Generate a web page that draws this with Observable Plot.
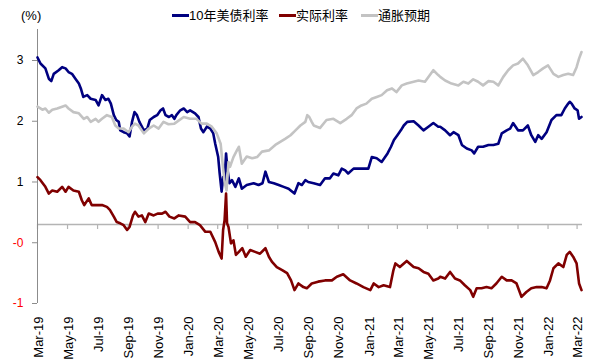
<!DOCTYPE html>
<html>
<head>
<meta charset="utf-8">
<script src="https://cdn.jsdelivr.net/npm/d3@7"></script>
<script src="https://cdn.jsdelivr.net/npm/@observablehq/plot@0.6"></script>
<style>
  html, body { margin: 0; padding: 0; background: #fff; }
  #wrap { position: relative; width: 606px; height: 363px; font-family: "Liberation Sans", Arial, "Noto Sans CJK SC", sans-serif; }
  #head { position: absolute; left: 0; top: 0; width: 606px; height: 25px; }
  #head span { position: absolute; top: 7px; line-height: 17px; font-size: 13px; color: #000; white-space: nowrap; }
  #head i { position: absolute; top: 14px; height: 3px; width: 17px; }
  #chart { position: absolute; left: 0; top: 25px; }
</style>
</head>
<body>
<div id="wrap">
  <div id="head"></div>
  <div id="chart"></div>
</div>
<script>
// ---- data ----
const seriesNames = ["10年美债利率", "实际利率", "通胀预期"];
const seriesColors = ["#000080", "#800000", "#c3c3c3"];
const unitLabel = "(%)";

const us10y = [
["2019-03-01",3.05],["2019-03-07",2.95],["2019-03-17",2.87],["2019-03-24",2.70],["2019-03-29",2.66],
["2019-04-03",2.78],["2019-04-13",2.84],["2019-04-20",2.89],["2019-04-27",2.87],["2019-05-03",2.81],
["2019-05-10",2.78],["2019-05-17",2.70],["2019-05-24",2.62],["2019-05-28",2.54],["2019-06-02",2.40],
["2019-06-10",2.43],["2019-06-17",2.37],["2019-06-27",2.35],["2019-07-03",2.26],["2019-07-10",2.43],
["2019-07-17",2.35],["2019-07-23",2.37],["2019-07-28",2.29],["2019-08-03",2.10],["2019-08-08",2.02],
["2019-08-13",1.99],["2019-08-16",1.85],["2019-08-23",1.82],["2019-08-30",1.80],["2019-09-04",1.75],
["2019-09-09",1.99],["2019-09-14",2.15],["2019-09-19",2.10],["2019-09-24",1.99],["2019-10-03",1.85],
["2019-10-10",1.88],["2019-10-15",2.02],["2019-10-23",2.07],["2019-10-30",2.10],["2019-11-06",2.18],
["2019-11-11",2.21],["2019-11-16",2.10],["2019-11-23",2.07],["2019-11-29",2.10],["2019-12-04",2.04],
["2019-12-08",2.10],["2019-12-16",2.18],["2019-12-23",2.21],["2019-12-30",2.15],["2020-01-05",2.18],
["2020-01-15",2.13],["2020-01-22",2.07],["2020-01-27",1.88],["2020-02-01",1.82],["2020-02-08",1.91],
["2020-02-15",1.88],["2020-02-21",1.80],["2020-02-25",1.63],["2020-03-02",1.41],["2020-03-05",1.14],
["2020-03-09",0.84],["2020-03-12",1.08],["2020-03-15",1.00],["2020-03-18",1.47],["2020-03-21",1.20],
["2020-03-25",0.98],["2020-03-30",1.03],["2020-04-06",0.92],["2020-04-13",1.06],["2020-04-19",0.89],
["2020-04-29",0.95],["2020-05-13",0.98],["2020-05-23",0.95],["2020-05-31",0.98],["2020-06-06",1.17],
["2020-06-13",1.00],["2020-06-23",0.98],["2020-07-03",0.95],["2020-07-13",0.92],["2020-07-23",0.89],
["2020-08-04",0.81],["2020-08-12",0.98],["2020-08-19",0.95],["2020-08-26",1.03],["2020-09-01",1.00],
["2020-09-12",0.98],["2020-09-25",0.95],["2020-10-05",1.06],["2020-10-15",1.06],["2020-10-22",1.14],
["2020-11-01",1.11],["2020-11-08",1.22],["2020-11-15",1.19],["2020-11-21",1.14],["2020-12-02",1.22],
["2020-12-12",1.22],["2020-12-22",1.22],["2021-01-01",1.22],["2021-01-08",1.41],["2021-01-18",1.39],
["2021-01-28",1.33],["2021-02-09",1.47],["2021-02-16",1.58],["2021-02-22",1.69],["2021-03-01",1.77],
["2021-03-08",1.85],["2021-03-14",1.93],["2021-03-21",1.99],["2021-04-03",2.00],["2021-04-13",1.93],
["2021-04-23",1.85],["2021-05-03",1.91],["2021-05-13",1.97],["2021-05-23",1.91],["2021-05-27",1.91],
["2021-06-06",1.85],["2021-06-16",1.77],["2021-06-23",1.82],["2021-07-03",1.77],["2021-07-10",1.61],
["2021-07-20",1.55],["2021-07-30",1.52],["2021-08-04",1.47],["2021-08-12",1.58],["2021-08-22",1.58],
["2021-09-02",1.61],["2021-09-12",1.61],["2021-09-22",1.63],["2021-09-29",1.80],["2021-10-09",1.85],
["2021-10-16",1.88],["2021-10-22",1.97],["2021-11-01",1.85],["2021-11-11",1.85],["2021-11-21",1.93],
["2021-11-28",1.77],["2021-12-06",1.66],["2021-12-12",1.77],["2021-12-19",1.71],["2021-12-29",1.82],
["2022-01-08",2.02],["2022-01-18",2.10],["2022-01-28",2.10],["2022-02-04",2.21],["2022-02-11",2.29],
["2022-02-14",2.32],["2022-02-18",2.29],["2022-02-24",2.21],["2022-03-02",2.18],["2022-03-05",2.04],
["2022-03-10",2.07]
];

const realRate = [
["2019-03-01",1.08],["2019-03-07",1.03],["2019-03-17",0.92],["2019-03-24",0.81],["2019-03-31",0.86],
["2019-04-10",0.84],["2019-04-20",0.92],["2019-04-27",0.84],["2019-05-03",0.92],["2019-05-13",0.86],
["2019-05-24",0.84],["2019-05-30",0.70],["2019-06-04",0.62],["2019-06-13",0.73],["2019-06-19",0.62],
["2019-06-29",0.62],["2019-07-10",0.62],["2019-07-20",0.59],["2019-07-26",0.54],["2019-08-03",0.43],
["2019-08-09",0.34],["2019-08-16",0.32],["2019-08-23",0.29],["2019-08-30",0.21],["2019-09-04",0.26],
["2019-09-11",0.45],["2019-09-15",0.51],["2019-09-22",0.43],["2019-09-29",0.45],["2019-10-06",0.34],
["2019-10-13",0.48],["2019-10-23",0.45],["2019-10-31",0.48],["2019-11-09",0.48],["2019-11-16",0.51],
["2019-11-24",0.43],["2019-12-04",0.40],["2019-12-13",0.45],["2019-12-26",0.43],["2020-01-05",0.34],
["2020-01-15",0.34],["2020-01-25",0.29],["2020-02-05",0.18],["2020-02-15",0.18],["2020-02-25",0.01],
["2020-03-03",-0.15],["2020-03-09",-0.26],["2020-03-12",0.21],["2020-03-15",0.37],["2020-03-18",0.81],
["2020-03-20",0.32],["2020-03-23",0.26],["2020-03-28",-0.01],["2020-04-02",0.04],["2020-04-07",-0.20],
["2020-04-13",-0.15],["2020-04-20",-0.09],["2020-04-27",-0.23],["2020-05-06",-0.12],["2020-05-16",-0.15],
["2020-05-26",-0.18],["2020-06-06",-0.09],["2020-06-13",-0.23],["2020-06-19",-0.31],["2020-06-29",-0.40],
["2020-07-10",-0.45],["2020-07-20",-0.50],["2020-07-28",-0.62],["2020-08-04",-0.78],["2020-08-12",-0.67],
["2020-08-22",-0.73],["2020-08-29",-0.75],["2020-09-08",-0.67],["2020-09-21",-0.64],["2020-10-05",-0.62],
["2020-10-19",-0.62],["2020-10-29",-0.56],["2020-11-11",-0.52],["2020-11-25",-0.62],["2020-12-08",-0.67],
["2020-12-22",-0.73],["2021-01-05",-0.78],["2021-01-12",-0.67],["2021-01-22",-0.73],["2021-02-01",-0.70],
["2021-02-14",-0.73],["2021-02-21",-0.45],["2021-02-25",-0.34],["2021-03-06",-0.40],["2021-03-20",-0.30],
["2021-04-03",-0.40],["2021-04-13",-0.42],["2021-04-23",-0.48],["2021-05-03",-0.51],["2021-05-13",-0.62],
["2021-05-23",-0.59],["2021-05-27",-0.56],["2021-06-06",-0.59],["2021-06-16",-0.48],["2021-06-26",-0.59],
["2021-07-06",-0.62],["2021-07-16",-0.70],["2021-07-27",-0.78],["2021-08-02",-0.89],["2021-08-09",-0.75],
["2021-08-19",-0.75],["2021-08-29",-0.73],["2021-09-08",-0.75],["2021-09-18",-0.67],["2021-09-29",-0.56],
["2021-10-09",-0.62],["2021-10-19",-0.62],["2021-10-29",-0.67],["2021-11-08",-0.89],["2021-11-18",-0.81],
["2021-11-28",-0.75],["2021-12-09",-0.73],["2021-12-19",-0.73],["2021-12-29",-0.75],["2022-01-05",-0.62],
["2022-01-12",-0.42],["2022-01-22",-0.34],["2022-02-01",-0.40],["2022-02-08",-0.20],["2022-02-14",-0.15],
["2022-02-21",-0.23],["2022-02-28",-0.34],["2022-03-05",-0.67],["2022-03-10",-0.78]
];

const breakeven = [
["2019-03-01",2.24],["2019-03-11",2.19],["2019-03-17",2.21],["2019-03-24",2.14],["2019-03-31",2.19],
["2019-04-10",2.21],["2019-04-20",2.24],["2019-04-27",2.26],["2019-05-03",2.21],["2019-05-13",2.15],
["2019-05-24",2.13],["2019-06-03",2.04],["2019-06-10",2.07],["2019-06-17",1.99],["2019-06-27",2.04],
["2019-07-03",1.99],["2019-07-10",2.04],["2019-07-20",2.10],["2019-07-30",2.07],["2019-08-06",1.93],
["2019-08-13",1.88],["2019-08-23",1.88],["2019-09-02",1.82],["2019-09-09",1.91],["2019-09-15",1.96],
["2019-09-22",1.93],["2019-10-03",1.80],["2019-10-13",1.88],["2019-10-23",1.93],["2019-11-02",1.88],
["2019-11-12",1.99],["2019-11-22",1.95],["2019-12-04",1.96],["2019-12-09",1.99],["2019-12-23",2.07],
["2020-01-05",2.04],["2020-01-18",2.04],["2020-01-28",1.96],["2020-02-08",1.96],["2020-02-18",1.91],
["2020-02-28",1.80],["2020-03-07",1.63],["2020-03-11",1.30],["2020-03-15",1.00],["2020-03-19",0.86],
["2020-03-23",1.33],["2020-03-26",1.25],["2020-04-02",1.41],["2020-04-09",1.52],["2020-04-13",1.58],
["2020-04-19",1.30],["2020-04-29",1.42],["2020-05-10",1.39],["2020-05-20",1.41],["2020-05-30",1.50],
["2020-06-13",1.52],["2020-06-26",1.61],["2020-07-06",1.66],["2020-07-16",1.71],["2020-07-27",1.77],
["2020-08-06",1.85],["2020-08-16",1.93],["2020-08-26",1.99],["2020-08-30",2.10],["2020-09-03",2.07],
["2020-09-08",1.99],["2020-09-12",1.93],["2020-09-25",1.89],["2020-10-08",2.02],["2020-10-22",2.04],
["2020-11-05",1.97],["2020-11-18",2.04],["2020-11-28",2.10],["2020-12-08",2.21],["2020-12-18",2.26],
["2020-12-28",2.29],["2021-01-08",2.37],["2021-01-18",2.40],["2021-01-28",2.43],["2021-02-08",2.51],
["2021-02-18",2.54],["2021-02-27",2.48],["2021-03-10",2.59],["2021-03-20",2.62],["2021-04-03",2.65],
["2021-04-13",2.67],["2021-04-26",2.65],["2021-05-06",2.76],["2021-05-13",2.84],["2021-05-23",2.76],
["2021-05-27",2.73],["2021-06-06",2.67],["2021-06-19",2.62],["2021-07-03",2.59],["2021-07-13",2.65],
["2021-07-23",2.62],["2021-08-02",2.69],["2021-08-12",2.65],["2021-08-22",2.59],["2021-09-02",2.66],
["2021-09-12",2.65],["2021-09-22",2.59],["2021-10-02",2.73],["2021-10-12",2.84],["2021-10-22",2.92],
["2021-11-01",2.95],["2021-11-11",3.03],["2021-11-21",2.92],["2021-12-02",2.76],["2021-12-12",2.81],
["2021-12-22",2.87],["2022-01-01",2.92],["2022-01-12",2.78],["2022-01-22",2.73],["2022-02-01",2.76],
["2022-02-11",2.78],["2022-02-21",2.76],["2022-02-28",2.89],["2022-03-05",3.03],["2022-03-10",3.14]
];

const xTickDates = ["2019-03-01","2019-05-01","2019-07-01","2019-09-01","2019-11-01","2020-01-01",
  "2020-03-01","2020-05-01","2020-07-01","2020-09-01","2020-11-01","2021-01-01","2021-03-01",
  "2021-05-01","2021-07-01","2021-09-01","2021-11-01","2022-01-01","2022-03-01"];
const xTickLabels = ["Mar-19","May-19","Jul-19","Sep-19","Nov-19","Jan-20","Mar-20","May-20","Jul-20",
  "Sep-20","Nov-20","Jan-21","Mar-21","May-21","Jul-21","Sep-21","Nov-21","Jan-22","Mar-22"];
const yTicksPos = [1, 2, 3];
const yTicksNeg = [-1, 0];
const yTickText = {"-1": "-1", "0": "-0", "1": "1", "2": "2", "3": "3"};
const xAxisCross = 0.3;
const xDomain = ["2019-03-01", "2022-03-12"];
const yDomain = [-1, 3.51];

// ---- build ----
const parse = s => new Date(s + "T00:00:00Z");
const toRows = arr => arr.map(([d, v]) => ({date: parse(d), value: v}));
const s1 = toRows(us10y), s2 = toRows(realRate), s3 = toRows(breakeven);
const ticks = xTickDates.map((d, i) => ({date: parse(d), label: xTickLabels[i]}));

const font = '"Liberation Sans", Arial, "Noto Sans CJK SC", sans-serif';
const axisGray = "#8c8c8c";
const pxPerUnit = (363 - 25 - 60 - 4) / (yDomain[1] - yDomain[0]);

const chart = Plot.plot({
  width: 606,
  height: 338,
  marginLeft: 37,
  marginRight: 24,
  marginTop: 4,
  marginBottom: 60,
  x: {type: "utc", domain: xDomain.map(parse), axis: null},
  y: {domain: yDomain},
  style: {fontFamily: font, fontSize: "12px", color: "#000", background: "#fff", overflow: "visible"},
  marks: [
    Plot.ruleY([xAxisCross], {stroke: "#b4b4b4", strokeWidth: 1.3}),
    Plot.ruleX(ticks, {x: "date", y1: xAxisCross, y2: xAxisCross - 5 / pxPerUnit, stroke: "#b4b4b4", strokeWidth: 1.2}),
    Plot.ruleX([parse(xDomain[0])], {stroke: axisGray, strokeWidth: 1}),
    Plot.axisY(yTicksPos, {anchor: "left", label: null, tickSize: 5, tickPadding: 9, stroke: axisGray, fill: "#000",
      fontSize: 12, tickFormat: d => yTickText[String(d)]}),
    Plot.axisY(yTicksNeg, {anchor: "left", label: null, tickSize: 5, tickPadding: 9, stroke: axisGray, fill: "#ff0000",
      fontSize: 12, tickFormat: d => yTickText[String(d)]}),
    Plot.line(s1, {x: "date", y: "value", stroke: seriesColors[0], strokeWidth: 2.6, strokeLinejoin: "round"}),
    Plot.line(s2, {x: "date", y: "value", stroke: seriesColors[1], strokeWidth: 2.6, strokeLinejoin: "round"}),
    Plot.line(s3, {x: "date", y: "value", stroke: seriesColors[2], strokeWidth: 2.6, strokeLinejoin: "round"}),
    Plot.text(ticks, {x: "date", y: yDomain[0], text: "label", rotate: -90, textAnchor: "end",
      lineAnchor: "middle", dy: 13, dx: 1, fontSize: 13, fill: "#000"})
  ]
});
document.getElementById("chart").appendChild(chart);

// ---- header: unit label + legend ----
const head = document.getElementById("head");
const unit = document.createElement("span");
unit.textContent = unitLabel;
unit.style.left = "21px";
head.appendChild(unit);
const legendX = [172, 279, 361];
seriesNames.forEach((name, i) => {
  const sw = document.createElement("i");
  sw.style.left = legendX[i] + "px";
  sw.style.background = seriesColors[i];
  head.appendChild(sw);
  const t = document.createElement("span");
  t.textContent = name;
  t.style.left = (legendX[i] + 17) + "px";
  head.appendChild(t);
});
</script>
</body>
</html>
